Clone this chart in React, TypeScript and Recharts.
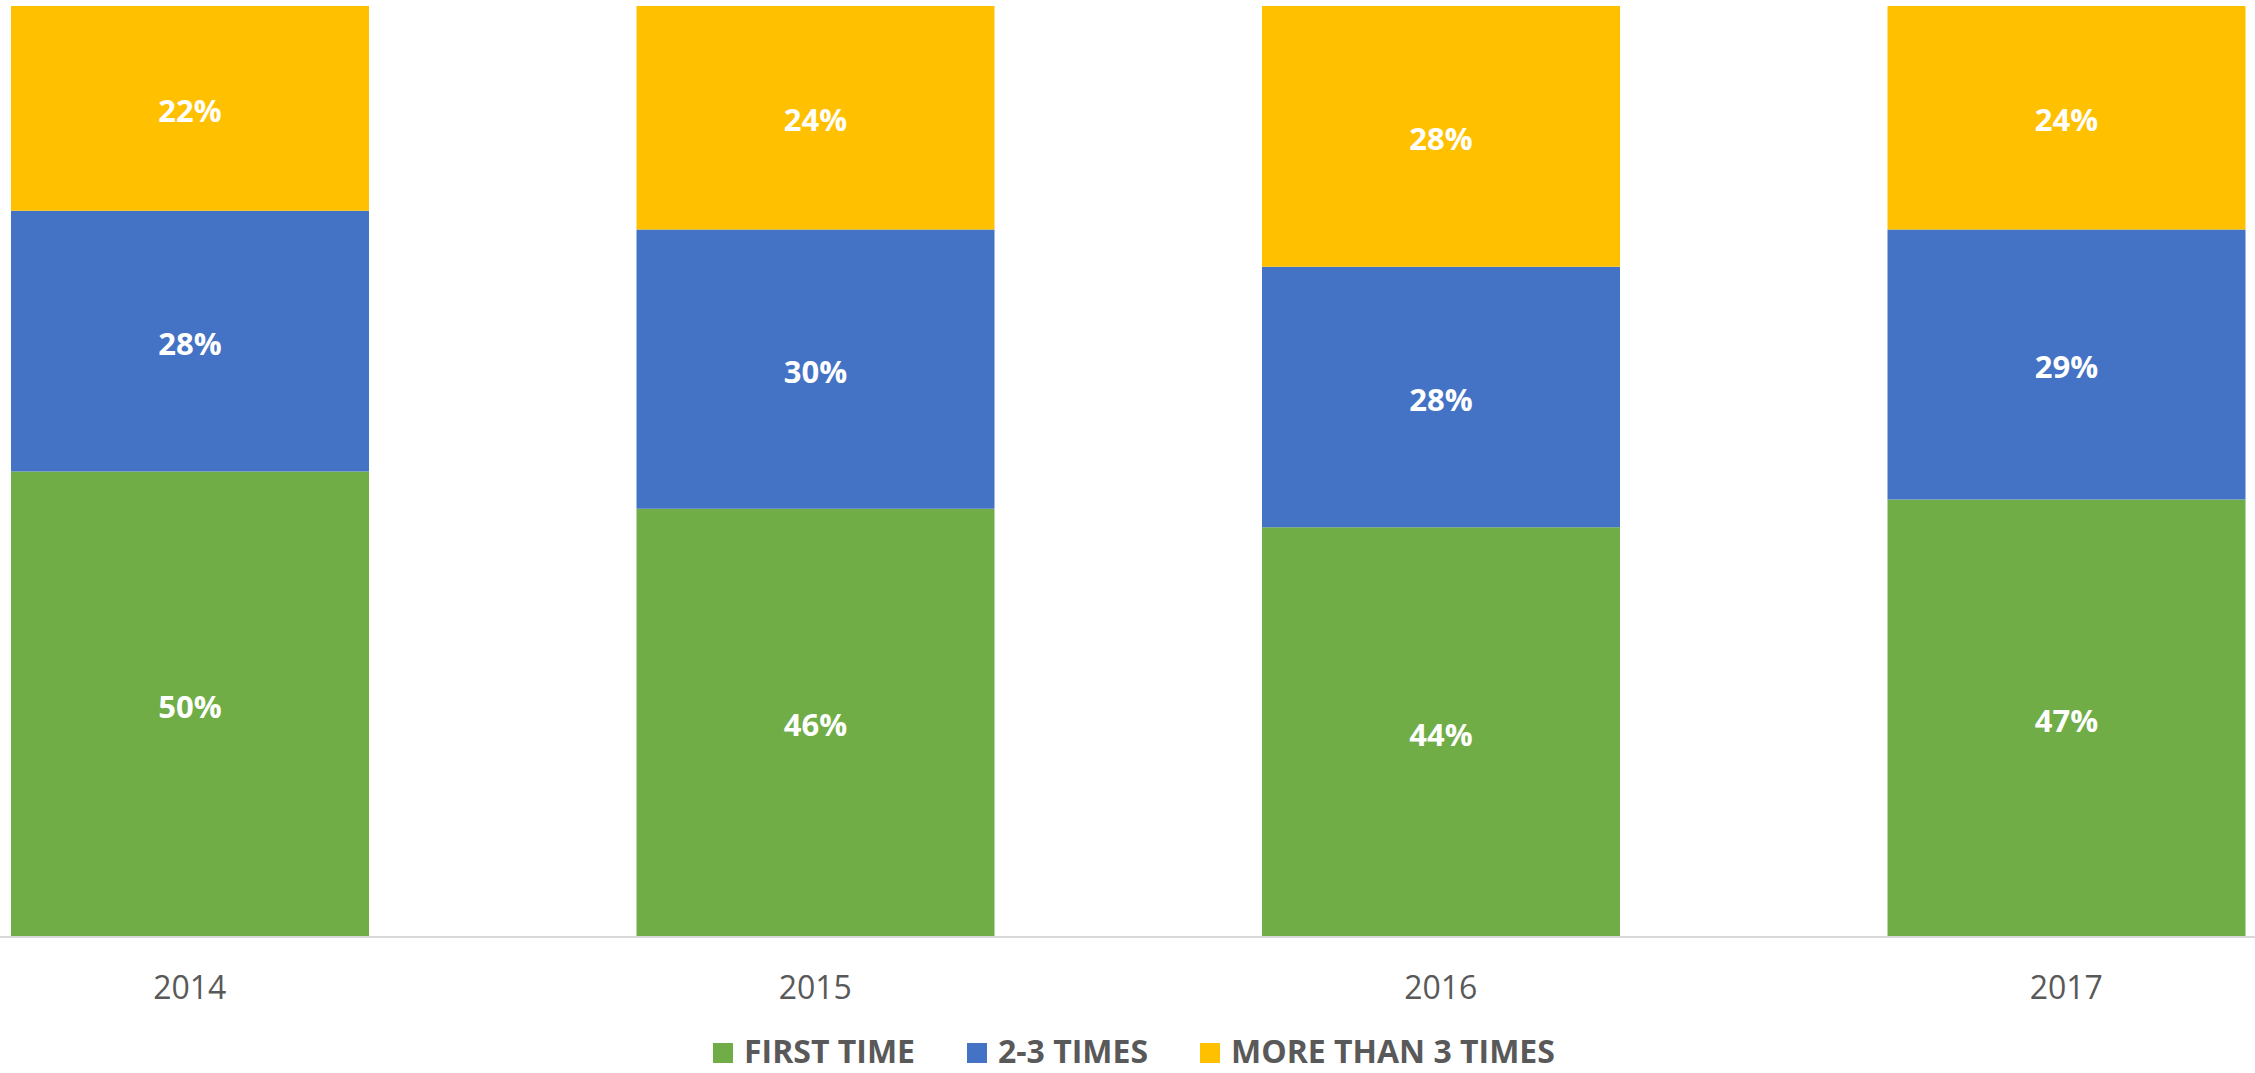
import React from "react";
import { BarChart, Bar, XAxis, YAxis, LabelList, Legend } from "recharts";

const categories = ["2014", "2015", "2016", "2017"];
const firstTime = [50, 46, 44, 47];
const twoToThree = [28, 30, 28, 29];
const moreThanThree = [22, 24, 28, 24];

const seriesNames = ["FIRST TIME", "2-3 TIMES", "MORE THAN 3 TIMES"];
const seriesKeys = ["first", "twoThree", "more"];
const seriesColors = ["#70AD47", "#4472C4", "#FFC000"];

const data = categories.map((c, i) => ({
  year: c,
  first: firstTime[i],
  twoThree: twoToThree[i],
  more: moreThanThree[i],
}));

const FONT = "'Open Sans', sans-serif";
const CHART_W = 2502;
const CHART_H = 1073;

const Tick = (props: any) => {
  const { x, y, payload } = props;
  return (
    <text x={x} y={y} dy={62} textAnchor="middle" fill="#595959" fontSize={32} fontFamily={FONT}>
      {payload.value}
    </text>
  );
};

const renderLabel = (props: any) => {
  const { x, y, width, height, value } = props;
  return (
    <text
      x={Number(x) + Number(width) / 2}
      y={Number(y) + Number(height) / 2}
      dy={13.5}
      textAnchor="middle"
      fill="#ffffff"
      fontSize={31}
      fontWeight={700}
      fontFamily={FONT}
    >
      {`${value}%`}
    </text>
  );
};

const LegendContent = () => (
  <div style={{ display: "flex", alignItems: "center", fontFamily: FONT }}>
    {seriesNames.map((n, i) => (
      <div key={n} style={{ display: "flex", alignItems: "center", marginRight: i < 2 ? 52 : 0 }}>
        <div style={{ width: 20, height: 20, background: seriesColors[i], marginRight: 11, marginTop: 5 }} />
        <span style={{ fontSize: 32, fontWeight: 700, color: "#595959", whiteSpace: "nowrap" }}>{n}</span>
      </div>
    ))}
  </div>
);

export default function App() {
  return (
    <div style={{ position: "absolute", left: 0, top: 0, width: 2255, height: 1073, overflow: "hidden", background: "#fff" }}>
      <div style={{ position: "absolute", left: -123, top: 0 }}>
        <BarChart width={CHART_W} height={CHART_H} data={data} margin={{ top: 6, right: 0, bottom: 0, left: 0 }}>
          <XAxis
            dataKey="year"
            height={136}
            tickLine={false}
            tickSize={0}
            tickMargin={0}
            axisLine={{ stroke: "#d9d9d9", strokeWidth: 2 }}
            tick={<Tick />}
            interval={0}
          />
          <YAxis hide domain={[0, 100]} />
          <Legend
            layout="horizontal"
            verticalAlign="middle"
            align="center"
            content={<LegendContent />}
            wrapperStyle={{ top: 1029, left: 836, width: "auto" }}
          />
          {seriesKeys.map((k, i) => (
            <Bar key={k} dataKey={k} name={seriesNames[i]} stackId="a" fill={seriesColors[i]} barSize={358} isAnimationActive={false}>
              <LabelList dataKey={k} content={renderLabel} />
            </Bar>
          ))}
        </BarChart>
      </div>
    </div>
  );
}
